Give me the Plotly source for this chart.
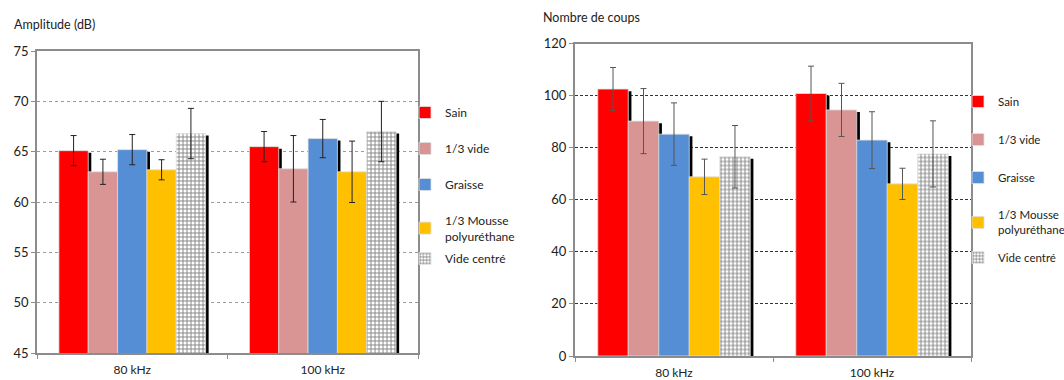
import plotly.graph_objects as go

categories = ["80 kHz", "100 kHz"]
series = ["Sain", "1/3 vide", "Graisse", "1/3 Mousse<br>polyuréthane", "Vide centré"]
colors = ["#FF0000", "#D99594", "#558ED5", "#FFC000", "#FFFFFF"]

# Left chart: Amplitude (dB)
amp_values = [
    [65.1, 65.5],
    [63.0, 63.3],
    [65.2, 66.3],
    [63.2, 63.0],
    [66.8, 67.0],
]
amp_errors = [
    [1.5, 1.5],
    [1.25, 3.3],
    [1.5, 1.9],
    [1.0, 3.05],
    [2.5, 3.0],
]

# Right chart: Nombre de coups
hits_values = [
    [102.5, 100.8],
    [90.2, 94.5],
    [85.2, 82.9],
    [68.8, 66.1],
    [76.5, 77.6],
]
hits_errors = [
    [8.3, 10.5],
    [12.5, 10.2],
    [12.0, 10.9],
    [6.8, 6.0],
    [12.0, 12.7],
]

FONT = "Lato, 'Open Sans', sans-serif"
BAR_W = 0.154
START = -0.385
SHADOW_DX = 0.016

fig = go.Figure()


def add_chart(values, errors, xa, ya, legend, legend_last, drop, errcolor):
    # shadows first
    for i, vals in enumerate(values):
        fig.add_trace(go.Bar(
            x=categories, y=[v - drop for v in vals],
            width=BAR_W, offset=START + i * BAR_W + SHADOW_DX,
            marker=dict(color="black", line=dict(width=0)),
            showlegend=False, hoverinfo="skip",
            xaxis=xa, yaxis=ya,
        ))
    for i, (vals, errs) in enumerate(zip(values, errors)):
        marker = dict(color=colors[i], line=dict(color="#E0E0E0", width=0.8))
        if i == 4:
            marker = dict(color="white", line=dict(color="#E0E0E0", width=0.8),
                          pattern=dict(shape="+", fgcolor="black", bgcolor="white",
                                       size=4, solidity=0.4))
        leg = legend if i < 4 else legend_last
        fig.add_trace(go.Bar(
            x=categories, y=vals, name=series[i],
            width=BAR_W, offset=START + i * BAR_W,
            marker=marker,
            error_y=dict(type="data", array=errs, visible=True,
                         color=errcolor, thickness=1, width=3),
            legend=leg, legendgroup=leg + str(i),
            xaxis=xa, yaxis=ya,
        ))


add_chart(amp_values, amp_errors, "x", "y", "legend", "legend3", 0.2, "#222222")
add_chart(hits_values, hits_errors, "x2", "y2", "legend2", "legend4", 0.8, "#555555")

axis_font = dict(family=FONT, size=12, color="#222222")


def legend_box(x_px, y_px, size, gap):
    return dict(x=x_px / 1064, y=1 - y_px / 380, xanchor="left", yanchor="top",
                font=dict(family=FONT, size=size), tracegroupgap=gap,
                bgcolor="rgba(0,0,0,0)", itemclick=False)


fig.update_layout(
    width=1064, height=380,
    margin=dict(l=0, r=0, t=0, b=0, autoexpand=False),
    paper_bgcolor="white", plot_bgcolor="white",
    barmode="overlay",
    font=dict(family=FONT, size=12, color="#222222"),
    xaxis=dict(domain=[37 / 1064, 418 / 1064], anchor="y", automargin=False,
               showline=True, linecolor="#8C8C8C", linewidth=2, mirror=True,
               ticks="outside", tickson="boundaries", ticklen=4, tickcolor="#8C8C8C",
               ticklabelstandoff=5, tickfont=axis_font, showgrid=False),
    yaxis=dict(domain=[1 - 353 / 380, 1 - 51 / 380], anchor="x", automargin=False,
               range=[45, 75], dtick=5,
               showline=True, linecolor="#8C8C8C", linewidth=1.5, mirror=True,
               ticks="outside", ticklen=4, tickcolor="#8C8C8C",
               showgrid=True, gridcolor="#9A9A9A", griddash="dot", gridwidth=1,
               tickfont=dict(family=FONT, size=13, color="#222222")),
    xaxis2=dict(domain=[575 / 1064, 971 / 1064], anchor="y2", automargin=False,
                showline=True, linecolor="#8C8C8C", linewidth=2, mirror=True,
                ticks="outside", tickson="boundaries", ticklen=4, tickcolor="#8C8C8C",
                ticklabelstandoff=5, tickfont=axis_font, showgrid=False),
    yaxis2=dict(domain=[1 - 356 / 380, 1 - 43.5 / 380], anchor="x2", automargin=False,
                range=[0, 120], dtick=20,
                showline=True, linecolor="#8C8C8C", linewidth=2, mirror=True,
                ticks="outside", ticklen=4, tickcolor="#8C8C8C",
                showgrid=True, gridcolor="#333333", griddash="3px,2px", gridwidth=1,
                tickfont=dict(family=FONT, size=13, color="#222222")),
    legend=legend_box(405, 98, 12, 17),
    legend3=legend_box(405, 244, 12, 17),
    legend2=legend_box(958, 87, 11.5, 19),
    legend4=legend_box(958, 243, 11.5, 19),
    annotations=[
        dict(text="Amplitude (dB)", x=12 / 1064, y=1 - 25 / 380, xref="paper", yref="paper",
             xanchor="left", yanchor="middle", showarrow=False,
             font=dict(family=FONT, size=12.5, color="#222222")),
        dict(text="Nombre de coups", x=541 / 1064, y=1 - 17 / 380, xref="paper", yref="paper",
             xanchor="left", yanchor="middle", showarrow=False,
             font=dict(family=FONT, size=12.5, color="#222222")),
    ],
)

fig.write_html("out.html", config={"displayModeBar": False},
               post_script="document.body.style.margin='0';")
